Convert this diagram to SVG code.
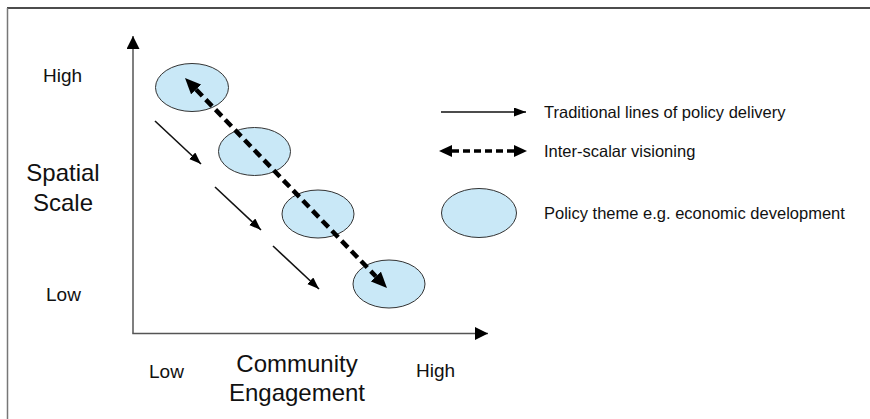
<svg xmlns="http://www.w3.org/2000/svg" width="870" height="419" viewBox="0 0 870 419">
<style>
.lbl{font-family:"Liberation Sans",Arial,sans-serif;fill:#111}
.big{font-size:24px}
.mid{font-size:19px}
.leg{font-size:16.5px}
.theme{fill:#C9E8F7;stroke:#333;stroke-width:1}
.axis{stroke:#555;stroke-width:1.5;fill:none}
.solid{stroke:#111;stroke-width:1.6;fill:none}
.dash{stroke:#000;stroke-width:4.5;stroke-dasharray:9 5;fill:none}
</style>
<defs>
<marker id="ah" markerUnits="userSpaceOnUse" markerWidth="14" markerHeight="10" refX="12" refY="4.5" orient="auto"><path d="M0,0 L12,4.5 L0,9 z" fill="#000"/></marker>
<marker id="axh" markerUnits="userSpaceOnUse" markerWidth="15" markerHeight="14" refX="13" refY="6.5" orient="auto"><path d="M0,0 L13,6.5 L0,13 z" fill="#000"/></marker>
<marker id="dh" markerUnits="userSpaceOnUse" markerWidth="17" markerHeight="15" refX="0" refY="7" orient="auto-start-reverse"><path d="M0,0 L16,7 L0,14 z" fill="#000"/></marker>
<marker id="dhs" markerUnits="userSpaceOnUse" markerWidth="14" markerHeight="13" refX="0" refY="6" orient="auto-start-reverse"><path d="M0,0 L13,6 L0,12 z" fill="#000"/></marker>
</defs>
<rect width="870" height="419" fill="#fff"/>
<g id="frame">
<line x1="7" y1="8" x2="870" y2="8" stroke="#111" stroke-width="1.5"/>
<line x1="7.5" y1="8" x2="7.5" y2="419" stroke="#777" stroke-width="1.5"/>
</g>
<g id="axes">
<line class="axis" x1="133" y1="333.5" x2="133" y2="36" marker-end="url(#axh)"/>
<line class="axis" x1="132.3" y1="333.5" x2="488" y2="333.5" marker-end="url(#axh)"/>
</g>
<g id="theme1"><ellipse class="theme" cx="192" cy="87.5" rx="36.5" ry="24"/></g>
<g id="theme2"><ellipse class="theme" cx="254.5" cy="151.5" rx="36" ry="24"/></g>
<g id="theme3"><ellipse class="theme" cx="318" cy="214" rx="36" ry="24"/></g>
<g id="theme4"><ellipse class="theme" cx="389" cy="284" rx="36" ry="24"/></g>
<g id="connectors">
<line class="solid" x1="155" y1="121" x2="201" y2="164" marker-end="url(#ah)"/>
<line class="solid" x1="215" y1="187" x2="261" y2="230" marker-end="url(#ah)"/>
<line class="solid" x1="273" y1="246" x2="319" y2="289" marker-end="url(#ah)"/>
<line class="dash" x1="196.1" y1="89.5" x2="375.9" y2="276.5" marker-start="url(#dh)" marker-end="url(#dh)"/>
</g>
<g id="legend">
<line class="solid" x1="441" y1="112" x2="526" y2="112" marker-end="url(#ah)"/>
<line stroke="#000" stroke-width="3.5" stroke-dasharray="7 4" x1="452" y1="151" x2="514" y2="151" marker-start="url(#dhs)" marker-end="url(#dhs)"/>
<ellipse class="theme" cx="479" cy="213" rx="37.5" ry="24.5"/>
<text class="lbl leg" x="544" y="117.5">Traditional lines of policy delivery</text>
<text class="lbl leg" x="544" y="157">Inter-scalar visioning</text>
<text class="lbl leg" x="544" y="218.5">Policy theme e.g. economic development</text>
</g>
<g id="labels">
<text class="lbl mid" x="43" y="82">High</text>
<text class="lbl mid" x="46" y="301">Low</text>
<text class="lbl big" x="63" y="180.5" text-anchor="middle">Spatial</text>
<text class="lbl big" x="63" y="210.5" text-anchor="middle">Scale</text>
<text class="lbl mid" x="149" y="378">Low</text>
<text class="lbl mid" x="416" y="377">High</text>
<text class="lbl big" x="297" y="371.5" text-anchor="middle">Community</text>
<text class="lbl big" x="297" y="400.5" text-anchor="middle">Engagement</text>
</g>
</svg>
